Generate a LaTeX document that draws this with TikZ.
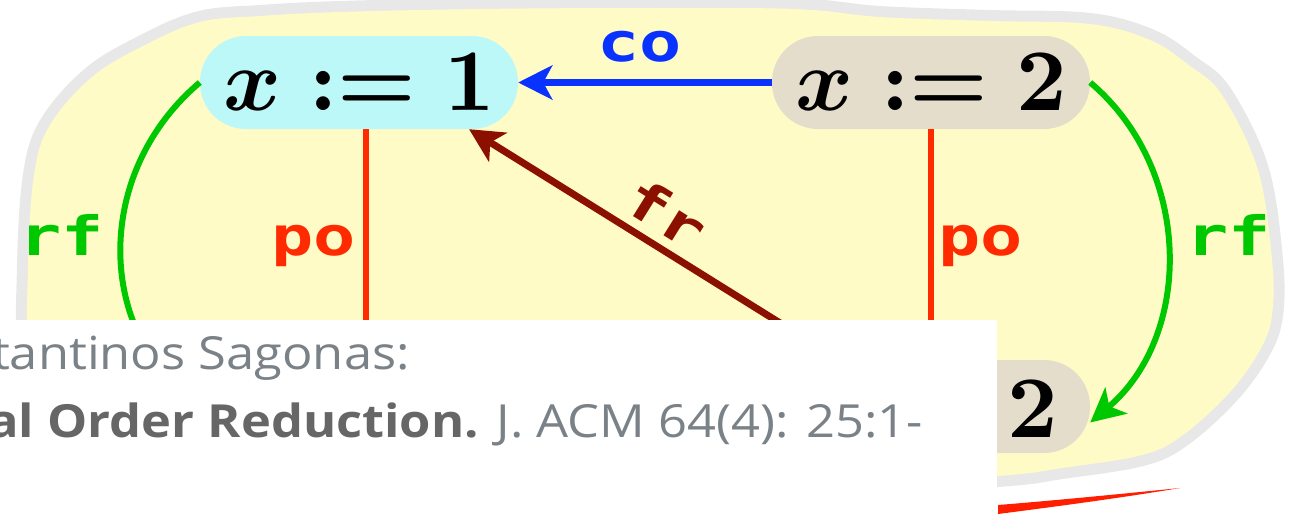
\documentclass[tikz,border=0pt]{standalone}
\usepackage{fontspec}
\usepackage{graphicx}
\newfontfamily\lblfont{DejaVu Sans Mono}[FakeStretch=1.3]
\newfontfamily\citefont{Open Sans}[FakeStretch=1.11]
\usetikzlibrary{arrows.meta}
\definecolor{blobyellow}{RGB}{255,251,199}
\definecolor{blobgrey}{RGB}{232,232,232}
\definecolor{wcyan}{RGB}{189,248,248}
\definecolor{wtan}{RGB}{228,221,203}
\definecolor{rfgreen}{RGB}{0,200,0}
\definecolor{coblue}{RGB}{10,50,255}
\definecolor{pored}{RGB}{255,42,0}
\definecolor{frred}{RGB}{140,16,0}
\definecolor{brushred}{RGB}{255,30,0}
\definecolor{citegrey}{RGB}{122,130,136}
\definecolor{citebold}{RGB}{102,102,102}
\newcommand{\bigmath}[1]{\scalebox{8.8}{\boldmath$#1$}}
\begin{document}
\begin{tikzpicture}[x=1pt,y=-1pt,
  evt/.style={rounded corners=46pt, minimum width=318pt, minimum height=93pt, inner sep=0pt},
  lbl/.style={font=\lblfont\bfseries\fontsize{54}{60}\selectfont, inner sep=0pt},
  tip/.style={-{Stealth[length=34pt,width=34pt,inset=9pt]}},
  cite/.style={font=\citefont\fontsize{45.6}{52}\selectfont, text=citegrey, inner sep=0pt, anchor=base east}]
\useasboundingbox (0,0) rectangle (1299,523);
% background blob
\fill[blobyellow, preaction={draw=blobgrey, line width=22pt, line join=round}]
  plot[smooth cycle, tension=0.6] coordinates {
  (145,45) (200,22) (260,16) (340,12) (480,9) (640,8) (795,9) (880,17) (990,21)
  (1090,24) (1150,40) (1190,66) (1222,95) (1258,170) (1272,260) (1272,315)
  (1260,350) (1230,392) (1183,435) (1142,455) (1062,468) (998,476) (800,488)
  (500,492) (200,480) (60,430) (30,370) (28,267) (34,175) (50,125) (92,77)};
% events
\node[evt, fill=wcyan] (n1) at (359,82.5) {\bigmath{x := 1}};
\node[evt, fill=wtan] (n2) at (931,82.5) {\bigmath{x := 2}};
\node[evt, fill=wtan] (n3) at (931,406.5) {};
\node[inner sep=0pt, anchor=base] (n3v) at (1033,437) {\bigmath{2}};
\coordinate (n4w) at (200,406.5);
\coordinate (n4n) at (366,360);
\coordinate (frs) at (914,406.5);
% relations
\draw[coblue, line width=7pt, tip] (n2.west) -- (n1.east)
  node[lbl, text=coblue, pos=0.52, above=17pt] (colbl) {co};
\draw[pored, line width=6pt] ([xshift=7pt]n1.south) -- (n4n);
\draw[pored, line width=6pt] (n2.south) -- (n3.north);
\draw[frred, line width=7pt, tip] (frs) -- (n1.-23)
  node[lbl, text=frred, pos=0.595, sloped, above=9pt] (frlbl) {fr};
\draw[rfgreen, line width=6pt, tip] (n1.west) .. controls +(-103,87) and +(-103,-87) .. (n4w);
\draw[rfgreen, line width=6pt, tip] (n2.east) .. controls +(103,87) and +(103,-87) .. ([yshift=-16pt]n3.east);
\node[lbl, text=pored, anchor=base east] (po1) at (356,255) {po};
\node[lbl, text=pored, anchor=base west] (po2) at (938,255) {po};
\node[lbl, text=rfgreen, anchor=base east] (rf1) at (104,255) {rf};
\node[lbl, text=rfgreen, anchor=base west] (rf2) at (1186,255) {rf};
% overlay popup
\node[fill=white, anchor=north west, minimum width=997pt, minimum height=203pt, inner sep=0pt] (popup) at (0,320) {};
\node[cite] (cite1) at (410,369) {tantinos Sagonas:};
\node[cite] (cite2) at (923,437) {{\bfseries\color{citebold}al Order Reduction.} J. ACM 64(4): 25:1-};
% red brush stroke
\fill[brushred] (998,505) .. controls (1060,500) and (1120,494) .. (1180,488)
  .. controls (1120,498) and (1060,506) .. (998,514) -- cycle;
\end{tikzpicture}
\end{document}
